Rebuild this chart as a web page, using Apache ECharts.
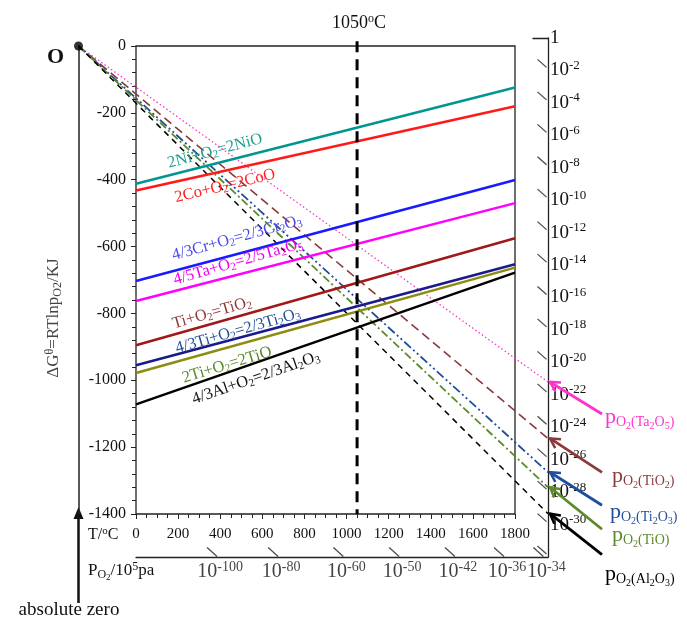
<!DOCTYPE html>
<html>
<head>
<meta charset="utf-8">
<script src="https://cdn.jsdelivr.net/npm/echarts@6/dist/echarts.min.js"></script>
<style>
html, body { margin: 0; padding: 0; background: #fff; }
#chart { width: 687px; height: 621px; }
</style>
</head>
<body>
<div id="chart"></div>
<script>
// Ellingham lines: dG (kJ) at T = 0 and T = 1800 C
var tempEnds = [0, 1800];
var reactions = ['NiO', 'CoO', 'Cr2O3', 'Ta2O5', 'TiO2', 'Ti2O3', 'TiO', 'Al2O3'];
var dgAt0 = [-412, -432, -703, -763, -895, -955, -978, -1072];
var dgAt1800 = [-124, -180, -401, -470, -575, -653, -663, -678];

// lines from absolute zero to the pO2 scale
var absZero = -273;
var scaleT = 1957;
var po2Oxides = ['Ta2O5', 'TiO2', 'Ti2O3', 'TiO', 'Al2O3'];
var po2LineEnd = [-1005, -1174, -1275, -1320, -1399];

var markTemp = 1050;

// pO2 scales (exponents of 10)
var rightExp = [-2, -4, -6, -8, -10, -12, -14, -16, -18, -20, -22, -24, -26, -28, -30, -32];
var bottomExp = [-100, -80, -60, -50, -42, -36, -34];
var bottomPos = [385, 675, 985, 1250, 1515, 1748, 1935];

var serif = 'Liberation Serif';

var lineColors = ['#00968f', '#ff1a1a', '#1a1aff', '#ff00ff', '#a01818', '#1a1a8c', '#8c8c10', '#000000'];
var textColors = ['#1f9e8e', '#ff2020', '#4a4ae6', '#ee00ee', '#8b3a3a', '#1f4e9a', '#5a8a2a', '#111111'];
var po2Colors = ['#ff33cc', '#8b3a3a', '#1f4e9a', '#5a8a2a', '#000000'];
var po2Dash = [[1.5, 2.5], [9, 5], [9, 3, 2, 3, 2, 3], [8, 3, 2, 3], [6, 5]];
var po2Width = [1.3, 1.6, 1.8, 1.8, 1.5];

function rich(size, color) {
  return {
    n: { fontSize: size, fontFamily: serif, fill: color, color: color },
    p: { fontSize: size, fontFamily: serif, fill: color, color: color },
    b: { fontSize: size, fontFamily: serif, fill: color, color: color, fontWeight: 'bold' },
    sub: { fontSize: Math.round(size * 0.68), fontFamily: serif, fill: color, color: color, padding: [Math.round(size * 0.45), 0, 0, 0] },
    ss: { fontSize: Math.round(size * 0.5), fontFamily: serif, fill: color, color: color, padding: [Math.round(size * 0.8), 0, 0, 0] },
    sup: { fontSize: Math.round(size * 0.68), fontFamily: serif, fill: color, color: color, padding: [0, 0, Math.round(size * 0.5), 0] }
  };
}

var series = [];
for (var i = 0; i < reactions.length; i++) {
  series.push({
    name: reactions[i],
    type: 'line',
    xAxisIndex: 0, yAxisIndex: 0,
    data: [[tempEnds[0], dgAt0[i]], [tempEnds[1], dgAt1800[i]]],
    symbol: 'none',
    silent: true,
    lineStyle: { color: lineColors[i], width: 2.5 },
    z: 3
  });
}
for (var j = 0; j < po2Oxides.length; j++) {
  series.push({
    name: 'pO2 ' + po2Oxides[j],
    type: 'line',
    xAxisIndex: 1, yAxisIndex: 1,
    data: [[absZero, 0], [scaleT, po2LineEnd[j]]],
    symbol: 'none',
    silent: true,
    lineStyle: { color: po2Colors[j], width: po2Width[j], type: po2Dash[j] },
    z: 2
  });
}
// 1050 C marker
series.push({
  type: 'line',
  xAxisIndex: 0, yAxisIndex: 0,
  data: [[markTemp, 14], [markTemp, -1400]],
  symbol: 'none',
  clip: false,
  silent: true,
  lineStyle: { color: '#000', width: 3, type: [11, 7] },
  z: 4
});
// absolute zero point
series.push({
  type: 'scatter',
  xAxisIndex: 1, yAxisIndex: 1,
  data: [[absZero, 0]],
  symbolSize: 9,
  clip: false,
  itemStyle: { color: '#000' },
  z: 5
});
// slanted ticks on right pO2 scale
series.push({
  type: 'scatter',
  xAxisIndex: 2, yAxisIndex: 2,
  data: rightExp.map(function (v) { return [1, v]; }),
  symbol: 'path://M0,0L10,9',
  symbolSize: [9, 8],
  symbolOffset: [-6, -7],
  clip: false,
  itemStyle: { color: 'transparent', borderColor: '#222', borderWidth: 1.2 }
});
// slanted ticks + labels on bottom pO2 scale
series.push({
  type: 'scatter',
  xAxisIndex: 3, yAxisIndex: 3,
  data: bottomPos.map(function (p, k) { return [p, 0, bottomExp[k]]; }),
  symbol: 'path://M0,0L10,9',
  symbolSize: [10, 9],
  symbolOffset: [-5, -5],
  clip: false,
  itemStyle: { color: 'transparent', borderColor: '#222', borderWidth: 1.2 },
  label: {
    show: true,
    position: 'bottom',
    distance: 3,
    offset: [8, 0],
    formatter: function (p) { return '{n|10}{sup|' + p.data[2] + '}'; },
    rich: rich(20, '#111')
  }
});

function plain(v) { return String(v); }

var option = {
  animation: false,
  backgroundColor: '#fff',
  grid: [
    { left: 136, top: 46, width: 379, height: 468, show: true, borderColor: '#222', borderWidth: 1.3 },
    { left: 78.5, top: 46, width: 469.5, height: 468 },
    { left: 533, top: 38, width: 15, height: 519 },
    { left: 136, top: 500, width: 412, height: 57 }
  ],
  xAxis: [
    {
      gridIndex: 0, type: 'value', min: 0, max: 1800, interval: 200,
      axisLine: { show: false, onZero: false },
      axisTick: { show: true, length: 5, lineStyle: { color: '#222' } },
      minorTick: { show: true, splitNumber: 4, length: 4, lineStyle: { color: '#222' } },
      splitLine: { show: false },
      axisLabel: { fontFamily: serif, fontSize: 15, color: '#111', margin: 13, formatter: plain }
    },
    { gridIndex: 1, type: 'value', min: absZero, max: scaleT, show: false },
    {
      gridIndex: 2, type: 'value', min: 0, max: 1, position: 'top',
      axisLine: { show: true, onZero: false, lineStyle: { color: '#222', width: 1.3 } },
      axisTick: { show: false }, axisLabel: { show: false }, splitLine: { show: false }
    },
    {
      gridIndex: 3, type: 'value', min: 0, max: scaleT, position: 'bottom',
      axisLine: { show: true, onZero: false, lineStyle: { color: '#222', width: 1.3 } },
      axisTick: { show: false }, axisLabel: { show: false }, splitLine: { show: false }
    }
  ],
  yAxis: [
    {
      gridIndex: 0, type: 'value', min: -1400, max: 0, interval: 200,
      axisLine: { show: false, onZero: false },
      axisTick: { show: true, length: 5, lineStyle: { color: '#222' } },
      minorTick: { show: true, splitNumber: 5, length: 4, lineStyle: { color: '#222' } },
      splitLine: { show: false },
      axisLabel: { fontFamily: serif, fontSize: 16, color: '#111', margin: 10, formatter: plain }
    },
    {
      gridIndex: 1, type: 'value', min: -1400, max: 0,
      axisLine: { show: true, onZero: false, lineStyle: { color: '#222', width: 1.5 } },
      axisTick: { show: false }, axisLabel: { show: false }, splitLine: { show: false }
    },
    {
      gridIndex: 2, type: 'value', min: -32, max: 0, interval: 2, position: 'right',
      axisLine: { show: true, onZero: false, lineStyle: { color: '#222', width: 1.3 } },
      axisTick: { show: false }, splitLine: { show: false },
      axisLabel: {
        margin: 2,
        formatter: function (v) {
          if (v === 0) return '{n|1}';
          if (v <= -32) return '';
          return '{n|10}{sup|' + v + '}';
        },
        rich: rich(19, '#111')
      }
    },
    { gridIndex: 3, type: 'value', min: 0, max: 1, show: false }
  ],
  series: series
};

var chart = echarts.init(document.getElementById('chart'));
chart.setOption(option);

// annotations
var g = [];
function text(x, y, str, size, color, rot, align) {
  g.push({
    type: 'text', x: x, y: y, rotation: rot || 0, z: 10,
    style: {
      text: str, rich: rich(size, color), fill: color,
      fontSize: size, fontFamily: serif,
      align: align || 'center', verticalAlign: 'middle'
    }
  });
}
var deg = Math.PI / 180;
var lineLabels = [
  '{n|2Ni+O}{sub|2}{n|=2NiO}',
  '{n|2Co+O}{sub|2}{n|=2CoO}',
  '{n|4/3Cr+O}{sub|2}{n|=2/3Cr}{sub|2}{n|O}{sub|3}',
  '{n|4/5Ta+O}{sub|2}{n|=2/5Ta}{sub|2}{n|O}{sub|5}',
  '{n|Ti+O}{sub|2}{n|=TiO}{sub|2}',
  '{n|4/3Ti+O}{sub|2}{n|=2/3Ti}{sub|2}{n|O}{sub|3}',
  '{n|2Ti+O}{sub|2}{n|=2TiO}',
  '{n|4/3Al+O}{sub|2}{n|=2/3Al}{sub|2}{n|O}{sub|3}'
];
var labelXY = [[215, 151], [225, 186], [237, 238], [238, 262], [212, 313], [238, 331], [227, 365], [256, 378]];
var labelRot = [15, 13.5, 15.5, 16, 16, 16, 17, 19];
for (var k = 0; k < lineLabels.length; k++) {
  text(labelXY[k][0], labelXY[k][1], lineLabels[k], 16.5, textColors[k], labelRot[k] * deg);
}

var mark = chart.convertToPixel({ gridIndex: 0 }, [markTemp, 0]);
text(mark[0] + 2, 23, '{n|' + markTemp + '}{sup|o}{n|C}', 18, '#111');

var zero = chart.convertToPixel({ gridIndex: 1 }, [absZero, 0]);
text(zero[0] - 23, zero[1] + 11, '{b|O}', 22, '#111');
text(54, 318, '{n|ΔG}{sup|θ}{n|=RTlnp}{sub|O2}{n|/KJ}', 17, '#444', Math.PI / 2);
text(88, 535, '{n|T/}{sup|o}{n|C}', 16, '#111', 0, 'left');
text(88, 571, '{n|P}{sub|O}{ss|2}{n|/10}{sup|5}{n|pa}', 17, '#111', 0, 'left');
text(69, 610, '{n|absolute zero}', 19, '#111');

// absolute zero arrow
var bottomPx = chart.convertToPixel({ gridIndex: 1 }, [absZero, -1400]);
g.push({ type: 'line', shape: { x1: zero[0], y1: bottomPx[1], x2: zero[0], y2: 603 }, style: { stroke: '#111', lineWidth: 2.5 } });
g.push({ type: 'polygon', shape: { points: [[zero[0], bottomPx[1] - 7], [zero[0] - 5, bottomPx[1] + 5], [zero[0] + 5, bottomPx[1] + 5]] }, style: { fill: '#111' } });

// pO2 arrows and labels
var arrowDy = [32, 34, 33, 42, 41];
var po2LabelXY = [[605, 417], [612, 476], [610, 512], [612, 535], [605, 574]];
var po2Texts = [
  '{p|p}{sub|O}{ss|2}{sub|(Ta}{ss|2}{sub|O}{ss|5}{sub|)}',
  '{p|p}{sub|O}{ss|2}{sub|(TiO}{ss|2}{sub|)}',
  '{p|p}{sub|O}{ss|2}{sub|(Ti}{ss|2}{sub|O}{ss|3}{sub|)}',
  '{p|p}{sub|O}{ss|2}{sub|(TiO)}',
  '{p|p}{sub|O}{ss|2}{sub|(Al}{ss|2}{sub|O}{ss|3}{sub|)}'
];
for (var m = 0; m < po2Oxides.length; m++) {
  var e = chart.convertToPixel({ gridIndex: 1 }, [scaleT, po2LineEnd[m]]);
  var hx = e[0] + 2, hy = e[1];
  var tx = hx + 52, ty = hy + arrowDy[m];
  var len = Math.sqrt((tx - hx) * (tx - hx) + (ty - hy) * (ty - hy));
  var ux = (tx - hx) / len, uy = (ty - hy) / len;
  var a = 0.5, L = 11;
  var w1 = [hx + L * (ux * Math.cos(a) - uy * Math.sin(a)), hy + L * (ux * Math.sin(a) + uy * Math.cos(a))];
  var w2 = [hx + L * (ux * Math.cos(-a) - uy * Math.sin(-a)), hy + L * (ux * Math.sin(-a) + uy * Math.cos(-a))];
  g.push({ type: 'line', z: 9, shape: { x1: hx, y1: hy, x2: tx, y2: ty }, style: { stroke: po2Colors[m], lineWidth: 2.8 } });
  g.push({ type: 'polyline', z: 9, shape: { points: [w1, [hx, hy], w2] }, style: { stroke: po2Colors[m], lineWidth: 2.5, fill: null } });
  g.push({
    type: 'text', x: po2LabelXY[m][0], y: po2LabelXY[m][1], z: 10,
    style: {
      text: po2Texts[m],
      rich: {
        p: { fontSize: 22, fontFamily: serif, fill: po2Colors[m] },
        sub: { fontSize: 14, fontFamily: serif, fill: po2Colors[m], padding: [10, 0, 0, 0] },
        ss: { fontSize: 10, fontFamily: serif, fill: po2Colors[m], padding: [18, 0, 0, 0] }
      },
      fill: po2Colors[m], align: 'left', verticalAlign: 'middle'
    }
  });
}

chart.setOption({ graphic: g });
</script>
</body>
</html>
